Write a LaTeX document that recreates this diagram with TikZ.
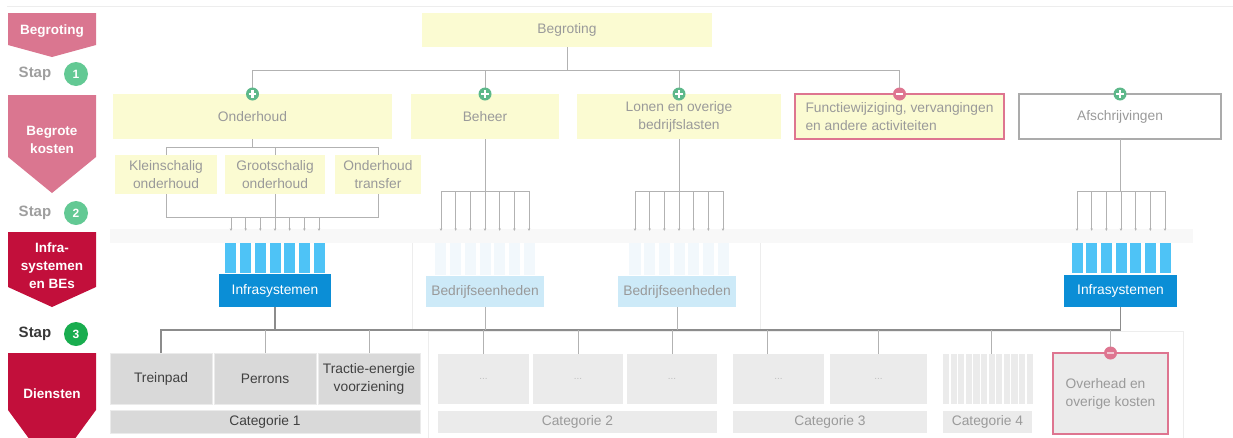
\documentclass[tikz,border=0pt]{standalone}
\usepackage{fontspec}
\setmainfont{Liberation Sans}
\usetikzlibrary{arrows.meta}
\definecolor{ylw}{HTML}{FBFBD2}
\definecolor{tgray}{HTML}{9A9A9A}
\definecolor{lgray}{HTML}{B2B2B2}
\definecolor{mgray}{HTML}{8C8C8C}
\definecolor{pinkA}{HTML}{DA7690}
\definecolor{crim}{HTML}{C20F3B}
\definecolor{gLight}{HTML}{63C994}
\definecolor{gDark}{HTML}{19AD4F}
\definecolor{pgreen}{HTML}{5DB88A}
\definecolor{pred}{HTML}{DE7590}
\definecolor{bbar}{HTML}{4EC3F6}
\definecolor{bdark}{HTML}{0B8ED6}
\definecolor{blight}{HTML}{CDEAF8}
\definecolor{bfaint}{HTML}{F2F8FC}
\definecolor{catD}{HTML}{D9D9D9}
\definecolor{catL}{HTML}{EBEBEB}
\definecolor{faint}{HTML}{F8F8F8}
\definecolor{faintline}{HTML}{EDEDED}
\begin{document}
\begin{tikzpicture}[x=1pt,y=-1pt,
  rr/.style args={#1/#2/#3/#4}{minimum width={(#3-#1)*1pt}, minimum height={(#4-#2)*1pt}, at={({(#1+#3)/2},{(#2+#4)/2})}},
  box/.style={inner sep=0pt, outer sep=0pt, font=\fontsize{13.8}{18}\selectfont, align=center},
  ybox/.style={box, fill=ylw, text=tgray},
  lab/.style={inner sep=0pt, text=white, font=\bfseries\fontsize{13.5}{18}\selectfont, align=center},
  staptxt/.style={inner sep=0pt, font=\bfseries\fontsize{15}{18}\selectfont},
  stapcirc/.style={circle, inner sep=0pt, minimum size=24pt, text=white, font=\bfseries\fontsize{12}{14}\selectfont},
  conn/.style={draw=lgray, line width=1pt},
  bus/.style={draw=mgray, line width=1.1pt},
  fan/.style={draw=lgray, line width=0.8pt, -{Stealth[length=2.5pt,width=2.5pt]}},
  bluebar/.style={inner sep=0pt, fill=bbar, minimum width=11pt, minimum height=30pt},
  fbar/.style={inner sep=0pt, fill=bfaint, minimum width=11pt, minimum height=32pt},
  catbox/.style={box, fill=catD, draw=catL, line width=0.8pt, text=black!75},
  lbox/.style={box, fill=catL, text=tgray},
  dots/.style={font=\fontsize{10}{12}\selectfont, text=black!25},
  pluspic/.pic={\fill[pgreen] (0pt,0pt) circle (6.5pt); \draw[white,line width=2.2pt] (-3.8pt,0pt)--(3.8pt,0pt) (0pt,-3.8pt)--(0pt,3.8pt);},
  minuspic/.pic={\fill[pred] (0pt,0pt) circle (6.5pt); \draw[white,line width=2.2pt] (-3.8pt,0pt)--(3.8pt,0pt);},
  fminuspic/.pic={\fill[pred] (0pt,0pt) circle (6.5pt); \draw[pred!40,line width=1.5pt] (-3.8pt,0pt)--(3.8pt,0pt);}
]
\useasboundingbox (0,0) rectangle (1233,437);
% top rule
\draw[faintline, line width=1pt] (7,6) -- (1233,6);

% faint background panels
\fill[faint] (110,229) rectangle (1193,243);
\draw[faintline, line width=0.8pt] (412,243) -- (412,330) (760,243) -- (760,330);
\draw[faintline, line width=0.8pt] (428,440) -- (428,331) -- (1183,331) -- (1183,440);

% left column chevrons
\fill[pinkA] (8,13) -- (96,13) -- (96,45) -- (52,57) -- (8,45) -- cycle;
\node[lab] (l1) at (52,31) {Begroting};
\fill[pinkA] (8,95) -- (96,95) -- (96,157) -- (52,193) -- (8,157) -- cycle;
\node[lab] (l2) at (52,139.5) {Begrote\\kosten};
\fill[crim] (8,232) -- (96,232) -- (96,287) -- (52,307) -- (8,287) -- cycle;
\node[lab] (l3) at (52,266) {Infra-\\systemen\\en BEs};
\fill[crim] (8,353) -- (96,353) -- (96,410) -- (52,470) -- (8,410) -- cycle;
\node[lab] (l4) at (52,394) {Diensten};

\node[staptxt, text=black!38] (s1) at (35,74) {Stap};
\node[stapcirc, fill=gLight] (c1) at (76,74) {1};
\node[staptxt, text=black!38] (s2) at (35,213) {Stap};
\node[stapcirc, fill=gLight] (c2) at (76,213) {2};
\node[staptxt, text=black!78] (s3) at (35,334) {Stap};
\node[stapcirc, fill=gDark] (c3) at (76,334) {3};

% level 1
\node[ybox, rr=422/13/712/47] (beg) {Begroting};
\node[ybox, rr=113/94/392/139] (onder) {Onderhoud};
\node[ybox, rr=411/94/559/139] (beheer) {Beheer};
\node[ybox, rr=577/94/781/139] (lonen) {Lonen en overige\\bedrijfslasten};
\node[ybox, draw=pred, line width=1.2pt, align=left, rr=795/94/1004/139] (func) {Functiewijziging, vervangingen\\en andere activiteiten};
\node[box, fill=white, draw=black!33, line width=1.2pt, text=tgray, rr=1019/94/1221/139] (afs) {Afschrijvingen};

\draw[conn] (beg.south) -- ++(0,23) -| (onder.north);
\draw[conn] (beg.south) -- ++(0,23) -| (func.north);
\draw[conn] (beheer.north) -- ++(0,-24);
\draw[conn] (lonen.north) -- ++(0,-24);
\pic at (onder.north) {pluspic};
\pic at (beheer.north) {pluspic};
\pic at (lonen.north) {pluspic};
\pic at (func.north) {minuspic};
\pic at (afs.north) {pluspic};

% onderhoud sub boxes
\node[ybox, rr=115/155/217/194] (klein) {Kleinschalig\\onderhoud};
\node[ybox, rr=225/155/325/194] (groot) {Grootschalig\\onderhoud};
\node[ybox, rr=335/155/421/194] (otrans) {Onderhoud\\transfer};
\draw[conn] (onder.south) -- ++(0,8) -| (klein.north);
\draw[conn] (onder.south) -- ++(0,8) -| (groot.north);
\draw[conn] (onder.south) -- ++(0,8) -| (otrans.north);
\draw[conn] (klein.south) |- (otrans.south |- 0,217) -- (otrans.south);
\draw[conn] (groot.south) -- (groot.south |- 0,217);

% blue bars + fans (Onderhoud -> Infrasystemen)
\foreach \i in {1,...,7}{
  \pgfmathsetmacro\xx{275+(\i-4)*14.67}
  \node[bluebar] (iA\i) at (\xx,258) {};
  \draw[fan, shorten >=12pt] (iA\i.north |- 0,217) -- (iA\i.north);
}
\node[box, fill=bdark, text=white, rr=219/274/331/307] (infL) {Infrasystemen};

% Beheer fan
\foreach \i in {1,...,7}{
  \pgfmathsetmacro\xx{485+(\i-4)*14.67}
  \node[fbar] (bA\i) at (\xx,259) {};
  \draw[fan, shorten >=12pt] (bA\i.north |- 0,191) -- (bA\i.north);
}
\draw[conn] (beheer.south) -- (beheer.south |- 0,191);
\draw[conn] (bA1.north |- 0,191) -- (bA7.north |- 0,191);
\node[box, fill=blight, text=black!40, rr=426/276/544/307] (bedA) {Bedrijfseenheden};

% Lonen fan
\foreach \i in {1,...,7}{
  \pgfmathsetmacro\xx{679+(\i-4)*14.67}
  \node[fbar] (bB\i) at (\xx,259) {};
  \draw[fan, shorten >=12pt] (bB\i.north |- 0,191) -- (bB\i.north);
}
\draw[conn] (lonen.south) -- (lonen.south |- 0,191);
\draw[conn] (bB1.north |- 0,191) -- (bB7.north |- 0,191);
\node[box, fill=blight, text=black!40, rr=618/276/736/307] (bedB) {Bedrijfseenheden};

% Afschrijvingen fan
\foreach \i in {1,...,7}{
  \pgfmathsetmacro\xx{1121+(\i-4)*14.67}
  \node[bluebar] (iB\i) at (\xx,258) {};
  \draw[fan, shorten >=12pt] (iB\i.north |- 0,191) -- (iB\i.north);
}
\draw[conn] (afs.south) -- (afs.south |- 0,191);
\draw[conn] (iB1.north |- 0,191) -- (iB7.north |- 0,191);
\node[box, fill=bdark, text=white, rr=1064/275/1177/307] (infR) {Infrasystemen};

% level 3 boxes
\node[catbox, rr=110/353/212/404] (trein) {Treinpad};
\node[catbox, rr=214/353/316/404] (perron) {Perrons};
\node[catbox, rr=318/353/420/404] (tractie) {Tractie-energie\\voorziening};
\node[catbox, rr=110/410/420/433] (cat1) {Categorie 1};

\node[lbox, dots, rr=438/354/529/404] (c2a) {...};
\node[lbox, dots, rr=533/354/623/404] (c2b) {...};
\node[lbox, dots, rr=627/354/717/404] (c2c) {...};
\node[lbox, rr=438/411/717/433] (cat2) {Categorie 2};
\node[lbox, dots, rr=733/354/824/404] (c3a) {...};
\node[lbox, dots, rr=830/354/927/404] (c3b) {...};
\node[lbox, rr=733/411/927/433] (cat3) {Categorie 3};
\node[inner sep=0pt, rr=943/354/1032/404] (c4) {};
\foreach \k in {0,...,11}{
  \fill[catL] (943+\k*7.6,354) rectangle ++(6.1,50);
}
\node[lbox, rr=943/411/1032/433] (cat4) {Categorie 4};
\node[box, fill=catL, draw=pred, line width=1.2pt, text=tgray, align=left, rr=1053/353/1168/434] (ovh) {Overhead en\\overige kosten};

% bus
\draw[bus] (trein.north) -- (trein.north |- 0,330) -| (infR.south);
\draw[bus] (infL.south) -- (infL.south |- 0,330);
\draw[conn] (bedA.south) -- (bedA.south |- 0,330);
\draw[conn] (bedB.south) -- (bedB.south |- 0,330);
\draw[conn] (perron.north) -- (perron.north |- 0,330);
\draw[conn] (tractie.north) -- (tractie.north |- 0,330);
\draw[conn] (c2a.north) -- (c2a.north |- 0,330);
\draw[conn] (c2b.north) -- (c2b.north |- 0,330);
\draw[conn] (c2c.north) -- (c2c.north |- 0,330);
\draw[conn] ([xshift=-11pt]c3a.north) -- ([xshift=-11pt]c3a.north |- 0,330);
\draw[conn] (c3b.north) -- (c3b.north |- 0,330);
\draw[conn] ([xshift=4pt]c4.north) -- ([xshift=4pt]c4.north |- 0,330);
\draw[conn] (ovh.north) -- (ovh.north |- 0,330);
\pic at (ovh.north) {fminuspic};
\end{tikzpicture}
\end{document}
